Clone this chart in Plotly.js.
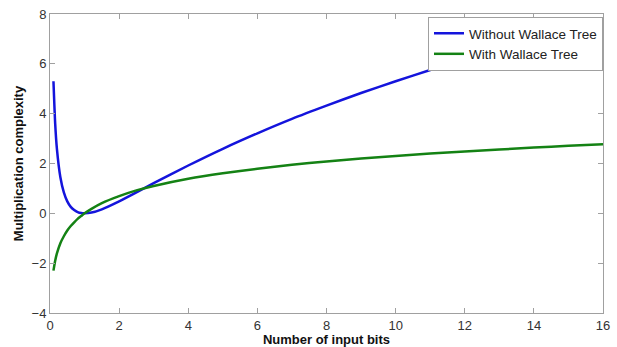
<!DOCTYPE html>
<html>
<head>
<meta charset="utf-8">
<script src="https://cdn.plot.ly/plotly-3.0.1.min.js"></script>
<style>html,body{margin:0;padding:0;background:#fff;}#chart{width:617px;height:347px;}</style>
</head>
<body>
<div id="chart"></div>
<script>
var xBits = [0.1, 0.15, 0.2, 0.3, 0.4, 0.5, 0.6, 0.7, 0.8, 0.9, 1, 1.2, 1.5, 2, 2.5, 3, 4, 5, 6, 7, 8, 9, 10, 11, 12, 13, 14, 15, 16];
var withoutWallace = [5.30, 3.60, 2.59, 1.45, 0.84, 0.48, 0.26, 0.13, 0.05, 0.01, 0, 0.03, 0.16, 0.48, 0.84, 1.21, 1.92, 2.59, 3.21, 3.79, 4.32, 4.83, 5.30, 5.75, 6.17, 6.58, 6.96, 7.33, 7.69];
var withWallace = [-2.30, -1.90, -1.61, -1.20, -0.92, -0.69, -0.51, -0.36, -0.22, -0.11, 0, 0.18, 0.41, 0.69, 0.92, 1.10, 1.39, 1.61, 1.79, 1.95, 2.08, 2.20, 2.30, 2.40, 2.48, 2.56, 2.64, 2.71, 2.77];
var seriesNames = ["Without Wallace Tree", "With Wallace Tree"];
var xTicks = [0, 2, 4, 6, 8, 10, 12, 14, 16];
var yTicks = [-4, -2, 0, 2, 4, 6, 8];

var FONT = 'Liberation Sans, Arial, sans-serif';
var traces = [
  {x: xBits, y: withoutWallace, name: seriesNames[0], type: 'scatter', mode: 'lines',
   line: {color: 'rgb(20,20,220)', width: 2.5, shape: 'spline', smoothing: 0.6}},
  {x: xBits, y: withWallace, name: seriesNames[1], type: 'scatter', mode: 'lines',
   line: {color: 'rgb(20,130,20)', width: 2.5, shape: 'spline', smoothing: 0.6}}
];
var axisCommon = {
  showgrid: false, zeroline: false, showline: true, linecolor: '#a0a0a0', linewidth: 1,
  mirror: 'ticks', ticks: 'inside', ticklen: 5, tickcolor: '#a0a0a0',
  tickfont: {family: FONT, size: 13, color: '#333'}, automargin: false
};
var layout = {
  width: 617, height: 347,
  margin: {l: 50, r: 14, t: 14, b: 34},
  paper_bgcolor: '#fff', plot_bgcolor: '#fff',
  showlegend: true,
  legend: {x: 1, y: 0.99, xanchor: 'right', yanchor: 'top', bgcolor: '#fff',
    bordercolor: '#a0a0a0', borderwidth: 1,
    font: {family: FONT, size: 13.5, color: '#222'},
    tracegroupgap: 0, itemwidth: 30},
  xaxis: Object.assign({}, axisCommon, {range: [0, 16], tickvals: xTicks, ticklabelstandoff: 0,
    title: {text: 'Number of input bits', standoff: 0,
      font: {family: FONT, size: 13, color: '#111', weight: 'bold'}}}),
  yaxis: Object.assign({}, axisCommon, {range: [-4, 8], tickvals: yTicks, ticklabelstandoff: 0,
    title: {text: 'Multiplication complexity', standoff: 5,
      font: {family: FONT, size: 13, color: '#111', weight: 'bold'}}})
};
Plotly.newPlot('chart', traces, layout, {displayModeBar: false, staticPlot: true});
</script>
</body>
</html>
